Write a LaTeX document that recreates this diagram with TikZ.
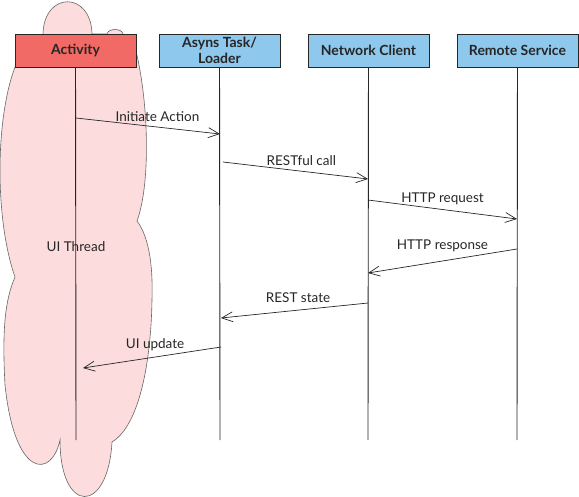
\documentclass[tikz,border=0pt]{standalone}
\usepackage{fontspec}
\setmainfont{Lato}
\usetikzlibrary{arrows.meta,quotes}

\definecolor{actred}{HTML}{F26A65}
\definecolor{taskblue}{HTML}{8EC8EC}
\definecolor{threadpink}{HTML}{FCDCDD}

\begin{document}
\begin{tikzpicture}[x=1pt,y=-1pt,
    lane/.style={draw=black!85,line width=.9pt,minimum width=121pt,minimum height=33pt,
      inner sep=1pt,align=center,text=black!85,font=\bfseries\fontsize{14}{15.5}\selectfont},
    msg/.style={-{Straight Barb[length=11pt,width=10pt]},line width=.7pt,black!85},
    every edge quotes/.style={font=\fontsize{13.5}{15}\selectfont,text=black!85,inner sep=2pt}]
  \useasboundingbox (0,0) rectangle (579,496);

  % UI thread cloud
  \filldraw[fill=threadpink,draw=black!60,line width=.6pt]
    (43,34) .. controls (44,-9) and (91,-9) .. (92,34)
    -- (107,34) .. controls (108,28) and (122,28) .. (123,34)
    -- (133,40) .. controls (148,90) and (152,180) .. (137,221)
    .. controls (150,238) and (153,270) .. (152,300)
    .. controls (151,360) and (140,425) .. (112,442)
    .. controls (108,515) and (60,515) .. (60,440)
    .. controls (52,478) and (15,480) .. (5,385)
    .. controls (2,330) and (5,300) .. (15,277)
    .. controls (-5,220) and (-5,120) .. (15,67)
    -- cycle;

  % lanes
  \node[lane,fill=actred]   (act)  at (75.5,50.5)  {Activity};
  \node[lane,fill=taskblue] (task) at (219.5,50.5) {Asyns Task/\\Loader};
  \node[lane,fill=taskblue] (net)  at (368.5,50.5) {Network Client};
  \node[lane,fill=taskblue] (rem)  at (517.5,50.5) {Remote Service};

  % lifelines
  \foreach \n/\x in {act/76,task/220,net/368,rem/517} {
    \coordinate (\n end) at (\x,440);
    \draw[line width=.9pt,black!85] (\n) -- (\n end);
  }

  \node[font=\fontsize{13.5}{15}\selectfont,text=black!85] (ui) at (76,247) {UI Thread};

  % messages
  \foreach \m/\xa/\ya/\xb/\yb/\p/\r/\l in {
      1/76/118/220/134/.566/3/Initiate Action,
      2/223/162/368/179/.54/3.5/RESTful call,
      3/368/200/517/219/.5/2.5/HTTP request,
      4/517/249/368/273/.5/7/HTTP response,
      5/368/303/221/318/.476/5.5/REST state,
      6/221/347/83/368/.478/3.5/UI update} {
    \coordinate (m\m a) at (\xa,\ya);
    \coordinate (m\m b) at (\xb,\yb);
    \draw[msg] (m\m a) to["\l" {above,pos=\p,yshift=\r pt}] (m\m b);
  }
\end{tikzpicture}
\end{document}
